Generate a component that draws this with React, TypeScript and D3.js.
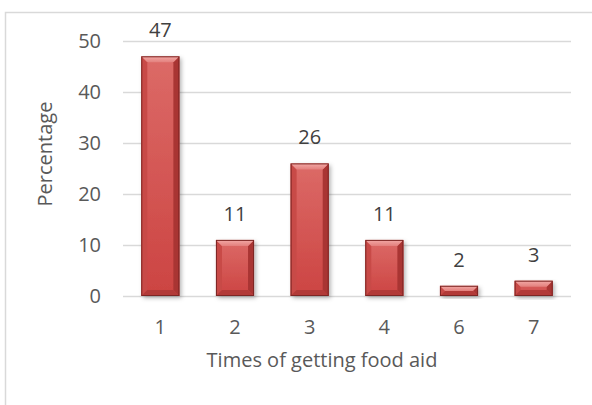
import React from "react";
import * as d3 from "d3";

const categories = ["1", "2", "3", "4", "6", "7"];
const values = [47, 11, 26, 11, 2, 3];
const yTicks = [0, 10, 20, 30, 40, 50];
const xTitle = "Times of getting food aid";
const yTitle = "Percentage";

const W = 592;
const H = 405;
const FONT = "'Open Sans', 'DejaVu Sans', sans-serif";

export default function App() {
  const x = d3
    .scaleBand<string>()
    .domain(categories)
    .range([123, 571])
    .paddingInner(0.49)
    .paddingOuter(0.245);
  const y = d3.scaleLinear().domain([0, 50]).range([296, 41]);

  const bars = categories.map((c, i) => {
    const v = values[i];
    const bx = x(c) as number;
    const bw = x.bandwidth();
    const by = y(v);
    const bh = y(0) - by;
    const b = Math.min(6, bh / 2, bw / 2);
    const top = `${bx},${by} ${bx + bw},${by} ${bx + bw - b},${by + b} ${bx + b},${by + b}`;
    const left = `${bx},${by} ${bx + b},${by + b} ${bx + b},${by + bh - b} ${bx},${by + bh}`;
    const right = `${bx + bw},${by} ${bx + bw - b},${by + b} ${bx + bw - b},${by + bh - b} ${bx + bw},${by + bh}`;
    const bottom = `${bx},${by + bh} ${bx + b},${by + bh - b} ${bx + bw - b},${by + bh - b} ${bx + bw},${by + bh}`;
    return (
      <g key={c}>
        <rect x={bx} y={by} width={bw} height={bh} fill="url(#face)" filter="url(#shadow)" />
        <polygon points={left} fill="#c84a47" />
        <polygon points={right} fill="#a93533" />
        <polygon points={bottom} fill="#b23a38" />
        <polygon points={top} fill="url(#topBevel)" />
        <rect x={bx + 0.5} y={by + 0.5} width={bw - 1} height={bh - 1} fill="none" stroke="#7d2624" strokeWidth={1} />
        <text
          x={bx + bw / 2}
          y={by - 19}
          textAnchor="middle"
          fontSize={20}
          fill="#404040"
          fontFamily={FONT}
        >
          {v}
        </text>
      </g>
    );
  });

  return (
    <svg
      width={W}
      height={H}
      style={{ position: "absolute", left: 0, top: 0, background: "#ffffff" }}
    >
      <defs>
        <linearGradient id="face" x1="0" y1="0" x2="0" y2="1">
          <stop offset="0" stopColor="#dc6a67" />
          <stop offset="1" stopColor="#cc4442" />
        </linearGradient>
        <linearGradient id="topBevel" x1="0" y1="0" x2="0" y2="1">
          <stop offset="0" stopColor="#f3aaa7" />
          <stop offset="1" stopColor="#e3807d" />
        </linearGradient>
        <filter id="shadow" x="-30%" y="-10%" width="160%" height="130%">
          <feDropShadow dx="2" dy="2" stdDeviation="2" floodColor="#000" floodOpacity="0.3" />
        </filter>
      </defs>
      <rect x={5.5} y={12.5} width={W + 20} height={H + 20} fill="#ffffff" stroke="#d9d9d9" strokeWidth={1.5} />
      {yTicks.map((t) => (
        <g key={t}>
          <line x1={123} x2={571} y1={Math.round(y(t)) + 0.5} y2={Math.round(y(t)) + 0.5} stroke="#d9d9d9" strokeWidth={1.5} />
          <text
            x={101}
            y={y(t)}
            dy="0.36em"
            textAnchor="end"
            fontSize={20}
            fill="#595959"
            fontFamily={FONT}
          >
            {t}
          </text>
        </g>
      ))}
      {bars}
      {categories.map((c) => (
        <text
          key={c}
          x={(x(c) as number) + x.bandwidth() / 2}
          y={334}
          textAnchor="middle"
          fontSize={20}
          fill="#595959"
          fontFamily={FONT}
        >
          {c}
        </text>
      ))}
      <text x={322} y={367} textAnchor="middle" fontSize={20} fill="#595959" fontFamily={FONT}>
        {xTitle}
      </text>
      <text
        transform={`translate(52,154) rotate(-90)`}
        textAnchor="middle"
        fontSize={20}
        fill="#595959"
        fontFamily={FONT}
      >
        {yTitle}
      </text>
    </svg>
  );
}
